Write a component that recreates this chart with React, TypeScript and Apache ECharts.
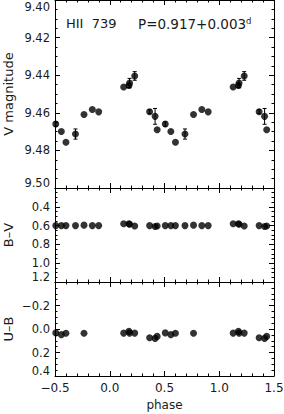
import React, { useEffect, useRef } from "react";
import * as echarts from "echarts";

// Base (folded) phases of the observations and their photometry
const basePhase = [0.127, 0.175, 0.181, 0.228, 0.364, 0.414, 0.433, 0.507, 0.558, 0.6, 0.687, 0.765, 0.841, 0.899];
const vMag = [9.4463, 9.4455, 9.4442, 9.4404, 9.4594, 9.4619, 9.469, 9.466, 9.4699, 9.4757, 9.4713, 9.4609, 9.4582, 9.4595];
const vErr = [0, 0.001, 0.0025, 0.0023, 0.001, 0.0042, 0, 0.0012, 0, 0, 0.0027, 0, 0, 0];
const bvColor = [0.58, 0.58, 0.585, 0.605, 0.6, 0.61, 0.605, 0.6, 0.6, 0.6, 0.6, 0.595, 0.6, 0.6];
const ubColor: (number | null)[] = [0.035, 0.02, 0.035, 0.035, 0.075, 0.08, 0.063, 0.033, 0.048, 0.036, null, 0.036, null, null];

const xTicks = [-0.5, 0.0, 0.5, 1.0, 1.5];
const vTicks = [9.4, 9.42, 9.44, 9.46, 9.48, 9.5];
const bvTicks = [0.2, 0.4, 0.6, 0.8, 1.0, 1.2];
const ubTicks = [-0.4, -0.2, 0.0, 0.2, 0.4];

const title = "HII  739";
const periodText = "P=0.917+0.003";
const periodUnit = "d";

const FONT = "DejaVu Sans";

function unfold(values: (number | null)[], err?: number[]) {
  const out: number[][] = [];
  basePhase.forEach((p, i) => {
    const v = values[i];
    if (v === null || v === undefined) return;
    [p - 1, p, p + 1].forEach((ph) => {
      if (ph >= -0.5 && ph <= 1.5) out.push(err ? [ph, v, err[i]] : [ph, v]);
    });
  });
  return out;
}

const fmtNum = (v: number, d: number) => {
  const s = Math.abs(v) < 1e-9 ? (0).toFixed(d) : v.toFixed(d);
  return s.replace("-", "\u2212");
};

export default function App() {
  const ref = useRef<HTMLDivElement>(null);
  useEffect(() => {
    if (!ref.current) return;
    const chart = echarts.init(ref.current, null, { renderer: "svg" });
    const black = "#000";
    const textColor = "#1a1a1a";
    const lineStyle = { color: black, width: 1 };
    const grids = [
      { left: 55, right: 10, top: 0, height: 188, outerBoundsMode: "none" },
      { left: 55, right: 10, top: 188, height: 94, outerBoundsMode: "none" },
      { left: 55, right: 10, top: 282, height: 94, outerBoundsMode: "none" },
    ];
    const xAxes: any[] = [];
    grids.forEach((_, i) => {
      ["bottom", "top"].forEach((pos) => {
        const showLabel = i === 2 && pos === "bottom";
        xAxes.push({
          type: "value",
          gridIndex: i,
          position: pos,
          min: xTicks[0],
          max: xTicks[xTicks.length - 1],
          interval: 0.5,
          axisLine: { show: true, onZero: false, lineStyle },
          axisTick: { show: true, inside: true, length: 5, lineStyle },
          minorTick: { show: true, splitNumber: 5, length: 2.5, lineStyle },
          splitLine: { show: false },
          axisLabel: {
            show: showLabel,
            margin: 6,
            color: textColor,
            fontFamily: FONT,
            fontSize: 12,
            showMinLabel: true,
            showMaxLabel: true,
            formatter: (v: number) => fmtNum(v, 1),
          },
          name: showLabel ? "phase" : "",
          nameLocation: "middle",
          nameGap: 23,
          nameTextStyle: { color: textColor, fontFamily: FONT, fontSize: 12 },
        });
      });
    });
    const yDefs = [
      { ticks: vTicks, interval: 0.02, dec: 2, name: "V magnitude", hideMin: false },
      { ticks: bvTicks, interval: 0.2, dec: 1, name: "B\u2013V", hideMin: true },
      { ticks: ubTicks, interval: 0.2, dec: 1, name: "U\u2013B", hideMin: true },
    ];
    const yAxes: any[] = [];
    yDefs.forEach((d, i) => {
      ["left", "right"].forEach((pos) => {
        const left = pos === "left";
        yAxes.push({
          type: "value",
          gridIndex: i,
          position: pos,
          inverse: true,
          min: d.ticks[0],
          max: d.ticks[d.ticks.length - 1],
          interval: d.interval,
          axisLine: { show: true, onZero: false, lineStyle },
          axisTick: { show: true, inside: true, length: 5, lineStyle },
          minorTick: { show: true, splitNumber: 4, length: 2.5, lineStyle },
          splitLine: { show: false },
          axisLabel: {
            show: left,
            margin: 5,
            color: textColor,
            fontFamily: FONT,
            fontSize: 11.5,
            lineHeight: 10,
            padding: [2, 0, 0, 0],
            showMinLabel: !d.hideMin,
            showMaxLabel: true,
            verticalAlignMinLabel: "top",
            verticalAlignMaxLabel: "bottom",
            formatter: (v: number) => fmtNum(v, d.dec),
          },
          name: left ? d.name : "",
          nameLocation: "middle",
          nameGap: 40,
          nameMoveOverlap: false,
          nameTextStyle: { color: textColor, fontFamily: FONT, fontSize: 13 },
        });
      });
    });

    const vData = unfold(vMag, vErr);
    const errData = vData.filter((r) => r[2] > 0);
    const bvData = unfold(bvColor);
    const ubData = unfold(ubColor);

    const scatterCommon = {
      type: "scatter",
      symbol: "circle",
      symbolSize: 7,
      itemStyle: { color: black },
      silent: true,
      clip: false,
    };

    chart.setOption({
      animation: false,
      backgroundColor: "#fff",
      grid: grids,
      xAxis: xAxes,
      yAxis: yAxes,
      series: [
        {
          type: "custom",
          xAxisIndex: 0,
          yAxisIndex: 0,
          data: errData,
          encode: { x: 0, y: 1 },
          renderItem: (params: any, api: any) => {
            const x = api.value(0);
            const y = api.value(1);
            const e = api.value(2);
            const p1 = api.coord([x, y - e]);
            const p2 = api.coord([x, y + e]);
            const st = { stroke: black, lineWidth: 1 };
            return {
              type: "group",
              children: [
                { type: "line", shape: { x1: p1[0], y1: p1[1], x2: p2[0], y2: p2[1] }, style: st },
                { type: "line", shape: { x1: p1[0] - 2, y1: p1[1], x2: p1[0] + 2, y2: p1[1] }, style: st },
                { type: "line", shape: { x1: p2[0] - 2, y1: p2[1], x2: p2[0] + 2, y2: p2[1] }, style: st },
              ],
            };
          },
        },
        { ...scatterCommon, xAxisIndex: 0, yAxisIndex: 0, data: vData.map((r) => [r[0], r[1]]) },
        { ...scatterCommon, xAxisIndex: 2, yAxisIndex: 2, data: bvData },
        { ...scatterCommon, xAxisIndex: 4, yAxisIndex: 4, data: ubData },
      ],
      graphic: [
        {
          type: "text",
          left: 66,
          top: 17,
          style: { text: title, fontFamily: FONT, fontSize: 13, fill: textColor },
        },
        {
          type: "text",
          left: 138,
          top: 17,
          style: { text: periodText, fontFamily: FONT, fontSize: 13.5, fill: textColor },
        },
        {
          type: "text",
          left: 246,
          top: 16,
          style: { text: periodUnit, fontFamily: FONT, fontSize: 8.5, fill: textColor },
        },
      ],
    });
    return () => chart.dispose();
  }, []);
  return (
    <div
      ref={ref}
      style={{ position: "fixed", left: 0, top: 0, width: 284, height: 414, background: "#fff" }}
    />
  );
}
